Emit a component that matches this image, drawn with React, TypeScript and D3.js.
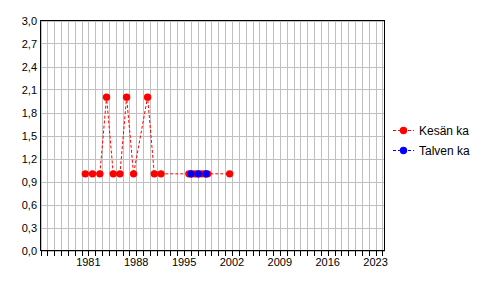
import React from "react";
import * as d3 from "d3";

const summerYears = [1980.55, 1981.6, 1982.68, 1983.66, 1984.64, 1985.62, 1986.59, 1987.61, 1989.66, 1990.64, 1991.62, 1995.7, 1996.1, 1996.6, 1997.1, 1997.6, 1998.1, 1998.45, 2001.66];
const summerValues = [1.0, 1.0, 1.0, 2.0, 1.0, 1.0, 2.0, 1.0, 2.0, 1.0, 1.0, 1.0, 1.0, 1.0, 1.0, 1.0, 1.0, 1.0, 1.0];
const winterYears = [1996.01, 1997.08, 1998.21];
const winterValues = [1.0, 1.0, 1.0];
const yTicks = [0, 0.3, 0.6, 0.9, 1.2, 1.5, 1.8, 2.1, 2.4, 2.7, 3.0];
const xLabelYears = [1981, 1988, 1995, 2002, 2009, 2016, 2023];
const seriesNames = ["Kesän ka", "Talven ka"];
const seriesColors = ["#ff0000", "#0000ff"];

const W = 496, H = 296;
const left = 40.5, right = 384.5, top = 20.5, bottom = 250.5;
const font = "'Liberation Sans', Arial, sans-serif";

export default function App() {
  const x = d3.scaleLinear().domain([1974, 2024.3]).range([left, right]);
  const y = d3.scaleLinear().domain([0, 3]).range([bottom, top]);
  const years = d3.range(1974, 2025);
  const line = d3.line<[number, number]>().x(d => x(d[0])).y(d => y(d[1]));
  const summer: [number, number][] = summerYears.map((yr, i) => [yr, summerValues[i]]);
  const winter: [number, number][] = winterYears.map((yr, i) => [yr, winterValues[i]]);
  const series = [summer, winter];

  return (
    <svg width={W} height={H} style={{ position: "absolute", left: 0, top: 0, background: "#fff" }} fontFamily={font}>
      <rect x={0} y={0} width={W} height={H} fill="#fff" />
      {years.map(yr => (
        <line key={"vg" + yr} x1={Math.round(x(yr)) + 0.5} x2={Math.round(x(yr)) + 0.5} y1={top} y2={bottom} stroke="#c0c0c0" strokeWidth={1} shapeRendering="crispEdges" />
      ))}
      {yTicks.map(t => (
        <line key={"hg" + t} x1={left} x2={right} y1={Math.round(y(t)) + 0.5} y2={Math.round(y(t)) + 0.5} stroke="#c0c0c0" strokeWidth={1} shapeRendering="crispEdges" />
      ))}
      {series.map((s, i) => (
        <path key={"l" + i} d={line(s) || ""} fill="none" stroke={seriesColors[i]} strokeWidth={1} strokeDasharray="3,2" />
      ))}
      {series.map((s, i) => s.map((d, j) => (
        <circle key={"p" + i + "-" + j} cx={x(d[0])} cy={y(d[1])} r={3.7} fill={seriesColors[i]} />
      )))}
      <rect x={left} y={top} width={right - left} height={bottom - top} fill="none" stroke="#000" strokeWidth={1} shapeRendering="crispEdges" />
      {years.map(yr => (
        <line key={"xt" + yr} x1={Math.round(x(yr)) + 0.5} x2={Math.round(x(yr)) + 0.5} y1={bottom} y2={bottom + 5} stroke="#000" strokeWidth={1} shapeRendering="crispEdges" />
      ))}
      {xLabelYears.map(yr => (
        <text key={"xl" + yr} x={x(yr)} y={266} textAnchor="middle" fontSize={11} fill="#000">{yr}</text>
      ))}
      {yTicks.map(t => (
        <text key={"yl" + t} x={37} y={y(t) + 4} textAnchor="end" fontSize={11} fill="#000">{t.toFixed(1).replace(".", ",")}</text>
      ))}
      {seriesNames.map((n, i) => {
        const ly = 130 + i * 20;
        return (
          <g key={"lg" + i}>
            <line x1={393} x2={414} y1={ly + 0.5} y2={ly + 0.5} stroke={seriesColors[i]} strokeDasharray="3,2" />
            <circle cx={403.5} cy={ly + 0.5} r={3.7} fill={seriesColors[i]} />
            <text x={419} y={ly + 4.5} fontSize={12} fill="#000">{n}</text>
          </g>
        );
      })}
    </svg>
  );
}
